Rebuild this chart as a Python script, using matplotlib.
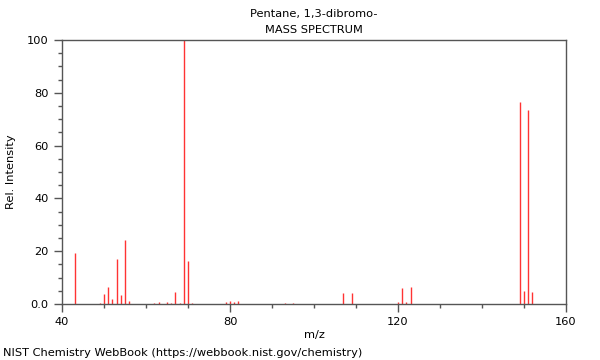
import matplotlib
matplotlib.use("Agg")
import matplotlib.pyplot as plt
from matplotlib.ticker import MultipleLocator, FixedLocator

mz = [43, 49, 50, 51, 52, 53, 54, 55, 56, 62, 63, 65, 66, 67, 68, 69, 70, 71,
      79, 80, 81, 82, 93, 95, 107, 109, 120, 121, 122, 123, 149, 150, 151, 152]
intensity = [19.3, 0.5, 3.7, 6.4, 1.9, 17.0, 3.5, 24.2, 1.1, 0.5, 0.9, 0.9, 0.5, 4.7, 0.3, 100.0, 16.4, 0.4,
             0.9, 1.1, 0.9, 1.3, 0.3, 0.3, 4.2, 4.2, 0.9, 6.1, 0.9, 6.6, 76.4, 5.0, 73.4, 4.4]

title1 = "Pentane, 1,3-dibromo-"
title2 = "MASS SPECTRUM"
xlabel = "m/z"
ylabel = "Rel. Intensity"
credit = "NIST Chemistry WebBook (https://webbook.nist.gov/chemistry)"
xticks = [40, 80, 120, 160]
yticks = [0, 20, 40, 60, 80, 100]
ytick_labels = ["0.0", "20", "40", "60", "80", "100"]

fig = plt.figure(figsize=(6, 3.6), dpi=100)
ax = fig.add_axes([62/600, 1-304/360, (566-62)/600, (304-40)/360])

ax.vlines(mz, 0, intensity, colors="#ff3333", linewidth=1.0)
ax.set_xlim(40, 160)
ax.set_ylim(0, 100)

spine_color = "#555555"
for s in ax.spines.values():
    s.set_color(spine_color)
    s.set_linewidth(1.0)

ax.xaxis.set_major_locator(FixedLocator(xticks))
ax.xaxis.set_minor_locator(MultipleLocator(10))
ax.yaxis.set_major_locator(FixedLocator(yticks))
ax.set_yticklabels(ytick_labels)
ax.yaxis.set_minor_locator(MultipleLocator(5))
ax.tick_params(axis="both", which="major", length=6, width=1, color=spine_color, labelsize=8.2, direction="out")
ax.tick_params(axis="both", which="minor", length=3, width=1, color=spine_color, direction="out")

ax.set_xlabel(xlabel, fontsize=8.2, labelpad=2)
ax.set_ylabel(ylabel, fontsize=8.2, labelpad=8)
fig.text(0.5 + 14/600, 1-14/360, title1, ha="center", va="center", fontsize=8.2)
fig.text(0.5 + 14/600, 1-30/360, title2, ha="center", va="center", fontsize=8.2)
fig.text(3/600, 1-353/360, credit, ha="left", va="center", fontsize=8.2)

fig.savefig("out.png", dpi=100)
